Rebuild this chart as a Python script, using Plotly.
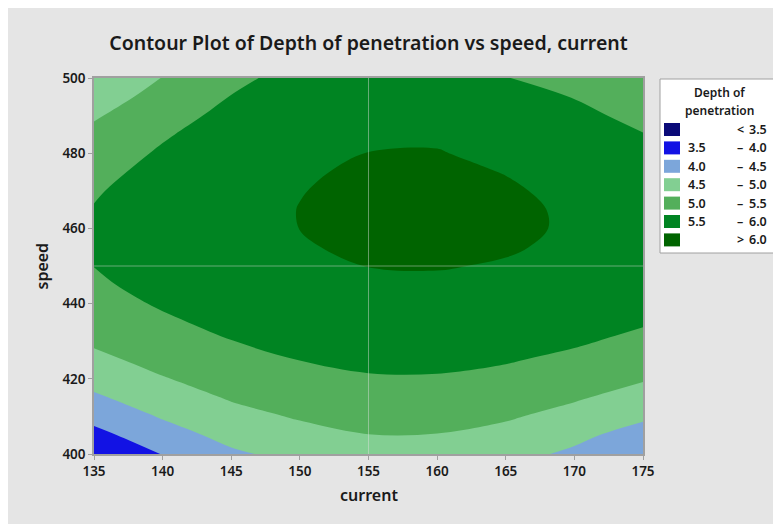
import plotly.graph_objects as go

# ---- data ----
current = [135, 140, 145, 150, 155, 160, 165, 170, 175]
speed = [400, 405, 410, 415, 420, 425, 430, 435, 440, 445, 450,
         455, 460, 465, 470, 475, 480, 485, 490, 495, 500]

# Depth of penetration at each current (column over speed 400..500)
depth_135 = [3.519, 3.852, 4.155, 4.428, 4.671, 4.884, 5.068, 5.221, 5.345, 5.440, 5.504,
             5.539, 5.543, 5.518, 5.463, 5.379, 5.264, 5.120, 4.946, 4.742, 4.509]
depth_140 = [4.018, 4.292, 4.542, 4.769, 4.972, 5.151, 5.306, 5.437, 5.544, 5.628, 5.687,
             5.723, 5.735, 5.724, 5.690, 5.634, 5.555, 5.454, 5.330, 5.184, 5.015]
depth_145 = [4.422, 4.647, 4.853, 5.041, 5.210, 5.361, 5.493, 5.606, 5.700, 5.776, 5.833,
             5.872, 5.892, 5.893, 5.876, 5.840, 5.785, 5.712, 5.620, 5.509, 5.447]
depth_150 = [4.650, 4.854, 5.042, 5.213, 5.367, 5.505, 5.626, 5.731, 5.819, 5.890, 5.945,
             5.983, 6.002, 6.006, 5.992, 5.970, 5.925, 5.864, 5.786, 5.691, 5.580]
depth_155 = [4.805, 4.991, 5.163, 5.320, 5.462, 5.588, 5.700, 5.797, 5.880, 5.947, 6.004,
             6.038, 6.061, 6.069, 6.062, 6.040, 6.004, 5.952, 5.886, 5.805, 5.709]
depth_160 = [4.795, 4.985, 5.160, 5.320, 5.465, 5.594, 5.709, 5.808, 5.892, 5.960, 6.013,
             6.052, 6.074, 6.082, 6.074, 6.052, 6.013, 5.960, 5.892, 5.808, 5.709]
depth_165 = [4.647, 4.859, 5.053, 5.230, 5.389, 5.532, 5.657, 5.764, 5.854, 5.927, 5.983,
             6.021, 6.042, 6.045, 6.029, 5.993, 5.937, 5.861, 5.765, 5.649, 5.513]
depth_170 = [4.420, 4.609, 4.841, 5.051, 5.240, 5.407, 5.553, 5.677, 5.779, 5.860, 5.920,
             5.958, 5.974, 5.969, 5.942, 5.894, 5.824, 5.733, 5.620, 5.485, 5.329]
depth_175 = [4.010, 4.306, 4.576, 4.820, 5.038, 5.230, 5.397, 5.537, 5.652, 5.740, 5.803,
             5.839, 5.850, 5.835, 5.793, 5.726, 5.633, 5.514, 5.369, 5.198, 5.010]

levels = [3.5, 4.0, 4.5, 5.0, 5.5, 6.0]
band_colors = ["#0A0A78", "#1212E4", "#7CA6DA", "#82CF92", "#53AF5B", "#008422", "#006400"]
ref_current = 155
ref_speed = 450

xticks = [135, 140, 145, 150, 155, 160, 165, 170, 175]
yticks = [400, 420, 440, 460, 480, 500]

columns = [depth_135, depth_140, depth_145, depth_150, depth_155,
           depth_160, depth_165, depth_170, depth_175]
z = [list(row) for row in zip(*columns)]

# stepped colorscale: one flat colour per band
n = len(band_colors)
cs = []
for i, c in enumerate(band_colors):
    lo = max(0.0, (i - 0.5) / (n - 1))
    hi = min(1.0, (i + 0.5) / (n - 1))
    cs.append([lo, c])
    cs.append([hi, c])

FONT = "Noto Sans"
TXT = "#1a1a1a"

fig = go.Figure()
fig.add_trace(go.Contour(
    x=current, y=speed, z=z,
    colorscale=cs, showscale=False,
    contours=dict(start=levels[0], end=levels[-1], size=levels[1] - levels[0],
                  coloring="fill", showlines=False),
    line=dict(width=0, smoothing=1.0), hoverinfo="skip"))

# The page has an 8px body margin; reference pixel positions are given in window pixels.
OFF = 8
W, H = 781 - OFF, 524 - OFF
L, R, T, B = 94, 643, 78, 454   # plot area in window pixels


def px_x(px):
    return (px - L) / (R - L)


def px_y(py):
    return (B - py) / (B - T)


shapes = []
# reference lines
shapes.append(dict(type="line", xref="x", yref="y", x0=ref_current, x1=ref_current,
                   y0=speed[0], y1=speed[-1], line=dict(color="rgba(225,225,225,0.45)", width=1)))
shapes.append(dict(type="line", xref="x", yref="y", x0=current[0], x1=current[-1],
                   y0=ref_speed, y1=ref_speed, line=dict(color="rgba(225,225,225,0.45)", width=1)))
# legend box
shapes.append(dict(type="rect", xref="paper", yref="paper",
                   x0=px_x(660), x1=px_x(778.5), y0=px_y(253), y1=px_y(79),
                   fillcolor="white", line=dict(color="#A0A0A0", width=1)))

annotations = []
tf = dict(family=FONT, size=12, color=TXT, weight=600)
annotations.append(dict(text="Depth of", xref="paper", yref="paper", x=px_x(719.5), y=px_y(92),
                        showarrow=False, xanchor="center", yanchor="middle", font=tf))
annotations.append(dict(text="penetration", xref="paper", yref="paper", x=px_x(719.5), y=px_y(110),
                        showarrow=False, xanchor="center", yanchor="middle", font=tf))

lf = dict(family=FONT, size=12.5, color=TXT, weight=600)
for i, c in enumerate(band_colors):
    yc = 129.5 + 18.4 * i
    shapes.append(dict(type="rect", xref="paper", yref="paper",
                       x0=px_x(664), x1=px_x(680), y0=px_y(yc + 6.5), y1=px_y(yc - 6.5),
                       fillcolor=c, line=dict(width=0)))
    if i == 0:
        sym, left, right = "<", "", f"{levels[0]:.1f}"
    elif i == n - 1:
        sym, left, right = ">", "", f"{levels[-1]:.1f}"
    else:
        sym, left, right = "\u2013", f"{levels[i-1]:.1f}", f"{levels[i]:.1f}"
    if left:
        annotations.append(dict(text=left, xref="paper", yref="paper", x=px_x(708), y=px_y(yc),
                                showarrow=False, xanchor="right", yanchor="middle", font=lf))
    annotations.append(dict(text=sym, xref="paper", yref="paper", x=px_x(740), y=px_y(yc),
                            showarrow=False, xanchor="center", yanchor="middle", font=lf))
    annotations.append(dict(text=right, xref="paper", yref="paper", x=px_x(747), y=px_y(yc),
                            showarrow=False, xanchor="left", yanchor="middle", font=lf))

# axis titles
annotations.append(dict(text="current", xref="paper", yref="paper", x=0.5, y=px_y(495),
                        showarrow=False, xanchor="center", yanchor="middle",
                        font=dict(family=FONT, size=16, color=TXT, weight=600)))
annotations.append(dict(text="speed", xref="paper", yref="paper", x=px_x(41.5), y=px_y(266),
                        showarrow=False, xanchor="center", yanchor="middle", textangle=-90,
                        font=dict(family=FONT, size=16, color=TXT, weight=600)))

axis_common = dict(ticks="outside", ticklen=4, tickwidth=1, tickcolor="#A0A0A0",
                   showline=True, linecolor="#A0A0A0", linewidth=1.5, mirror=True,
                   showgrid=False, zeroline=False,
                   tickfont=dict(family=FONT, size=13.5, color=TXT, weight=600))

fig.update_layout(
    width=W, height=H, autosize=False,
    margin=dict(l=L - OFF, r=W - (R - OFF), t=T - OFF, b=H - (B - OFF), pad=0),
    paper_bgcolor="#E5E5E5", plot_bgcolor="#E5E5E5",
    title=dict(text="Contour Plot of Depth of penetration vs speed, current",
               x=0.5, xref="paper", xanchor="center", y=1 - (43 - OFF) / H, yanchor="middle",
               font=dict(family=FONT, size=19.5, color=TXT, weight=600)),
    xaxis=dict(range=[current[0], current[-1]], tickvals=xticks, **axis_common),
    yaxis=dict(range=[speed[0], speed[-1]], tickvals=yticks, **axis_common),
    shapes=shapes, annotations=annotations, showlegend=False,
)

fig.write_html("out.html")
